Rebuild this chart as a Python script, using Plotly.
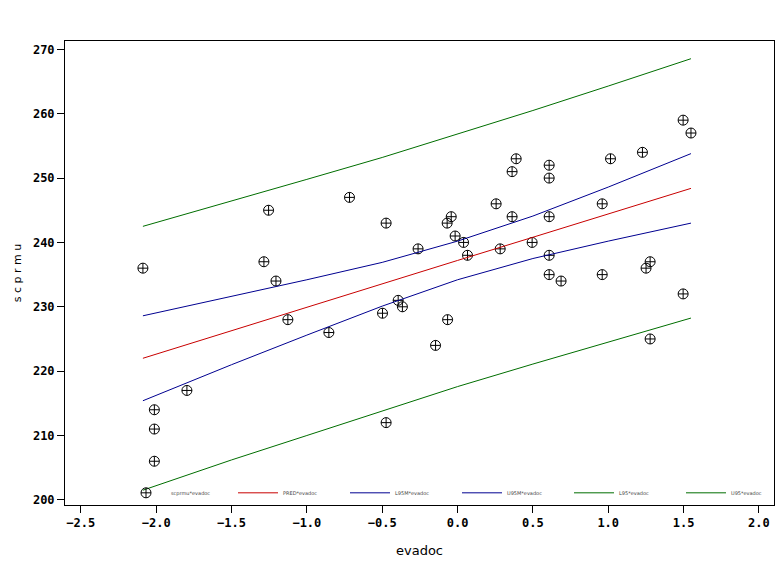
import plotly.graph_objects as go

# observed data (evadoc, scprmu)
evadoc = [-2.088, -2.012, -2.012, -2.012, -1.796, -1.285, -1.254, -1.205, -1.126, -0.854,
          -0.717, -0.498, -0.474, -0.474, -0.394, -0.366, -0.262, -0.146, -0.069, -0.042,
          -0.066, -0.016, 0.040, 0.066, 0.256, 0.283, 0.362, 0.362, 0.389, 0.495,
          0.608, 0.608, 0.608, 0.608, 0.608, 0.687, 0.960, 0.960, 1.015, 1.227,
          1.251, 1.278, 1.278, 1.497, 1.497, 1.549]
scprmu = [236, 214, 211, 206, 217, 237, 245, 234, 228, 226,
          247, 229, 243, 212, 231, 230, 239, 224, 243, 244,
          228, 241, 240, 238, 246, 239, 251, 244, 253, 240,
          252, 250, 244, 238, 235, 234, 246, 235, 253, 254,
          236, 237, 225, 259, 232, 257]

# fitted lines read at these evadoc values
x_fit = [-2.088, -1.5, -1.0, -0.5, 0.0, 0.5, 1.0, 1.549]
pred = [222.0, 226.3, 229.9, 233.5, 237.2, 240.8, 244.4, 248.4]
l95m = [215.4, 221.0, 225.6, 230.1, 234.2, 237.5, 240.2, 243.0]
u95m = [228.6, 231.6, 234.2, 236.9, 240.2, 244.1, 248.6, 253.8]
l95 = [201.5, 206.2, 210.0, 213.8, 217.6, 221.1, 224.5, 228.25]
u95 = [242.5, 246.4, 249.8, 253.2, 256.8, 260.5, 264.3, 268.55]

x_ticks = [-2.5, -2.0, -1.5, -1.0, -0.5, 0.0, 0.5, 1.0, 1.5, 2.0]
y_ticks = [200, 210, 220, 230, 240, 250, 260, 270]

RED = "#c80000"
BLUE = "#000090"
GREEN = "#006e00"

fig = go.Figure()
fig.add_trace(go.Scatter(x=evadoc, y=scprmu, mode="markers", name="scprmu*evadoc",
                         marker=dict(symbol="circle-cross-open", size=10, color="black",
                                     line=dict(width=1, color="black"))))
line_series = [("PRED*evadoc", pred, RED), ("L95M*evadoc", l95m, BLUE),
               ("U95M*evadoc", u95m, BLUE), ("L95*evadoc", l95, GREEN),
               ("U95*evadoc", u95, GREEN)]
for i, (name, ys, col) in enumerate(line_series):
    extra = dict(legendwidth=36) if i == len(line_series) - 1 else {}
    fig.add_trace(go.Scatter(x=x_fit, y=ys, mode="lines", name=name,
                             line=dict(color=col, width=1), **extra))

tickfont = dict(family="DejaVu Sans Mono", size=12, color="black", weight="bold")

fig.update_layout(
    width=768, height=556,
    margin=dict(l=57, r=2, t=33, b=59),
    paper_bgcolor="white", plot_bgcolor="white",
    showlegend=True,
    legend=dict(orientation="h", x=0, y=-0.005, xanchor="left", yanchor="bottom",
                font=dict(family="DejaVu Sans", size=5, color="#444444"),
                bgcolor="rgba(0,0,0,0)", itemwidth=40, indentation=56,
                entrywidth=1, entrywidthmode="pixels", traceorder="normal"),
    xaxis=dict(range=[-2.605, 2.10], tickvals=x_ticks, tickformat=".1f",
               ticks="outside", ticklen=7, tickcolor="black", tickwidth=1,
               showgrid=False, zeroline=False, showline=True, linecolor="black",
               linewidth=1, mirror=True, tickfont=tickfont,
               title=dict(text="evadoc", standoff=16,
                          font=dict(family="DejaVu Sans", size=13, color="black"))),
    yaxis=dict(range=[199.2, 271.3], tickvals=y_ticks,
               ticks="outside", ticklen=7, tickcolor="black", tickwidth=1,
               showgrid=False, zeroline=False, showline=True, linecolor="black",
               linewidth=1, mirror=True, tickfont=tickfont,
               title=dict(text="s c p r m u", standoff=9,
                          font=dict(family="DejaVu Sans", size=11, color="black"))),
)

fig.write_html("out.html")
